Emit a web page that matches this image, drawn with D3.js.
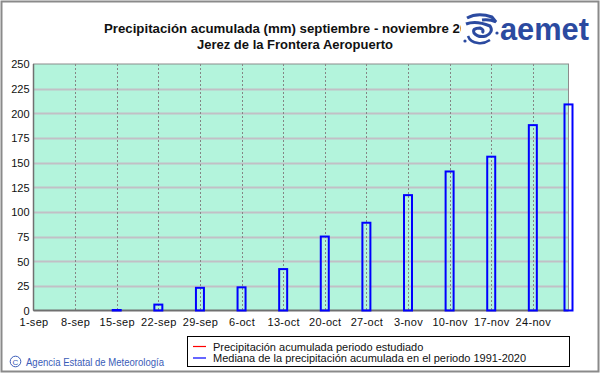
<!DOCTYPE html>
<html>
<head>
<meta charset="utf-8">
<script src="https://cdn.jsdelivr.net/npm/d3@7"></script>
<style>
  html, body { margin: 0; padding: 0; background: #fff; }
  svg { display: block; }
  text { font-family: "Liberation Sans", Arial, sans-serif; }
</style>
</head>
<body>
<svg id="chart" width="601" height="374"></svg>
<script>
// ---------------- DATA ----------------
const titleLines = [
  "Precipitación acumulada (mm) septiembre - noviembre 2023",
  "Jerez de la Frontera Aeropuerto"
];
const dateLabels = ["1-sep","8-sep","15-sep","22-sep","29-sep","6-oct","13-oct","20-oct","27-oct","3-nov","10-nov","17-nov","24-nov"];
const tickDates = ["2023-09-01","2023-09-08","2023-09-15","2023-09-22","2023-09-29","2023-10-06","2023-10-13","2023-10-20","2023-10-27","2023-11-03","2023-11-10","2023-11-17","2023-11-24"];
const medianDates = ["2023-09-01","2023-09-08","2023-09-15","2023-09-22","2023-09-29","2023-10-06","2023-10-13","2023-10-20","2023-10-27","2023-11-03","2023-11-10","2023-11-17","2023-11-24","2023-11-30"];
const medianValues = [0, 0, 0.5, 6, 23, 23.5, 42, 75, 89, 117, 141, 156, 188, 209];
const observedDates = [];   // periodo estudiado: no data drawn in reference
const observedValues = [];
const yTicks = [0, 25, 50, 75, 100, 125, 150, 175, 200, 225, 250];
const legendLabels = [
  "Precipitación acumulada periodo estudiado",
  "Mediana de la precipitación acumulada en el periodo 1991-2020"
];
const legendColors = ["#ff0000", "#0000ff"];
const creditText = "Agencia Estatal de Meteorología";

// ---------------- LAYOUT ----------------
const svg = d3.select("#chart");
const parse = d3.utcParse("%Y-%m-%d");
const X0 = 33.5, X1 = 568.5, Y0 = 310.5, Y1 = 64;

const x = d3.scaleUtc()
  .domain([parse("2023-09-01"), parse("2023-11-30")])
  .range([X0, X1]);
const y = d3.scaleLinear().domain([0, 250]).range([Y0, Y1]);

// outer frame
svg.append("rect").attr("x", 1.5).attr("y", 1.5).attr("width", 597).attr("height", 370)
  .attr("fill", "#fff").attr("stroke", "#8a8a8a").attr("stroke-width", 2);

// plot background
svg.append("rect").attr("x", X0).attr("y", Y1).attr("width", X1 - X0).attr("height", Y0 - Y1)
  .attr("fill", "#b3f4dc");

// horizontal grid
svg.append("g").selectAll("line").data(yTicks.filter(d => d > 0 && d < 250)).join("line")
  .attr("x1", X0).attr("x2", X1)
  .attr("y1", d => Math.round(y(d)) + 0.5).attr("y2", d => Math.round(y(d)) + 0.5)
  .attr("stroke", "#c2c0c6").attr("stroke-width", 2);

// vertical dashed grid
svg.append("g").selectAll("line").data(tickDates.slice(1)).join("line")
  .attr("x1", d => Math.round(x(parse(d))) + 0.5).attr("x2", d => Math.round(x(parse(d))) + 0.5)
  .attr("y1", Y1).attr("y2", Y0)
  .attr("stroke", "#858585").attr("stroke-width", 1).attr("stroke-dasharray", "2,2");

// plot border
svg.append("rect").attr("x", X0).attr("y", Y1).attr("width", X1 - X0).attr("height", Y0 - Y1)
  .attr("fill", "none").attr("stroke", "#8c8c8c").attr("stroke-width", 1);
svg.append("line").attr("x1", X0).attr("x2", X0).attr("y1", Y1).attr("y2", Y0)
  .attr("stroke", "#707070").attr("stroke-width", 1.5);
svg.append("line").attr("x1", X0).attr("x2", X1).attr("y1", Y0).attr("y2", Y0)
  .attr("stroke", "#707070").attr("stroke-width", 2);

// median bars
const bw = 8;
svg.append("g").selectAll("rect").data(medianValues.map((v, i) => ({d: parse(medianDates[i]), v})).filter(o => o.v > 0))
  .join("rect")
  .attr("x", o => x(o.d) - bw / 2)
  .attr("y", o => y(o.v))
  .attr("width", bw)
  .attr("height", o => Math.max(0.5, Y0 - y(o.v)))
  .attr("fill", "none")
  .attr("stroke", "#0000ff")
  .attr("stroke-width", 2);

// observed line (empty in reference)
svg.append("path")
  .datum(observedValues.map((v, i) => ({d: parse(observedDates[i]), v})))
  .attr("fill", "none").attr("stroke", "#ff0000").attr("stroke-width", 1.5)
  .attr("d", d3.line().x(o => x(o.d)).y(o => y(o.v)));

// y axis labels
const yAxis = d3.axisLeft(y).tickValues(yTicks).tickSize(0).tickPadding(0);
const gy = svg.append("g").attr("transform", `translate(${X0 - 4},0)`).call(yAxis);
gy.select(".domain").remove();
gy.selectAll("text").attr("font-size", 11).attr("fill", "#101010")
  .attr("font-family", "Liberation Sans, Arial, sans-serif").attr("dy", "0.35em");

// x axis labels
const xAxis = d3.axisBottom(x).tickValues(tickDates.map(parse))
  .tickFormat((d, i) => dateLabels[i]).tickSize(0).tickPadding(0);
const gx = svg.append("g").attr("transform", `translate(0,${Y0 + 7})`).call(xAxis);
gx.select(".domain").remove();
gx.selectAll("text").attr("font-size", 11).attr("fill", "#101010")
  .attr("font-family", "Liberation Sans, Arial, sans-serif").attr("dy", "0.75em")
  .attr("letter-spacing", "0.3px");

// title
svg.append("text").attr("x", 293).attr("y", 33).attr("text-anchor", "middle")
  .attr("font-size", 12.5).attr("font-weight", "bold").attr("fill", "#111")
  .attr("textLength", 378).attr("lengthAdjust", "spacingAndGlyphs")
  .text(titleLines[0]);
svg.append("text").attr("x", 295).attr("y", 49).attr("text-anchor", "middle")
  .attr("font-size", 12.5).attr("font-weight", "bold").attr("fill", "#111")
  .attr("textLength", 196).attr("lengthAdjust", "spacingAndGlyphs")
  .text(titleLines[1]);

// aemet logo
const logo = svg.append("g").attr("fill", "none").attr("stroke", "#2b4aa0");
logo.append("rect").attr("x", 461).attr("y", 12).attr("width", 38).attr("height", 34).attr("fill", "#fff").attr("stroke", "none");
logo.append("path").attr("d", "M467,18 Q478,12 492,17 L496,22 Q490,19 482,20").attr("stroke-width", 3);
logo.append("path").attr("d", "M466,24 Q476,20 490,26 Q494,32 486,36 Q478,38 474,33 Q472,28 480,28 Q485,30 482,33").attr("stroke-width", 3);
logo.append("path").attr("d", "M468,36 Q470,42 478,43 Q484,44 490,40").attr("stroke-width", 2.5);
logo.append("circle").attr("cx", 465).attr("cy", 41).attr("r", 1.6).attr("fill", "#2b4aa0").attr("stroke", "none");
logo.append("circle").attr("cx", 497).attr("cy", 33).attr("r", 1.6).attr("fill", "#2b4aa0").attr("stroke", "none");
svg.append("text").attr("x", 500).attr("y", 40).attr("font-size", 31).attr("font-weight", "bold")
  .attr("fill", "#2b4aa0").attr("textLength", 89).attr("lengthAdjust", "spacingAndGlyphs")
  .attr("font-family", "Liberation Sans, Arial, sans-serif").text("aemet");

// legend
const lg = svg.append("g");
lg.append("rect").attr("x", 187.5).attr("y", 336.5).attr("width", 382).attr("height", 30)
  .attr("fill", "#fff").attr("stroke", "#000").attr("stroke-width", 1);
legendLabels.forEach((t, i) => {
  const yy = 346.5 + i * 11.5;
  lg.append("line").attr("x1", 193).attr("x2", 206).attr("y1", yy).attr("y2", yy)
    .attr("stroke", legendColors[i]).attr("stroke-width", 1.2);
  lg.append("text").attr("x", 213).attr("y", yy + 4).attr("font-size", 11).attr("fill", "#111")
    .text(t);
});

// credit
svg.append("circle").attr("cx", 15.5).attr("cy", 361.5).attr("r", 5.3)
  .attr("fill", "none").attr("stroke", "#3a5cb8").attr("stroke-width", 1);
svg.append("text").attr("x", 15.5).attr("y", 364.8).attr("text-anchor", "middle")
  .attr("font-size", 8).attr("fill", "#3a5cb8").text("C");
svg.append("text").attr("x", 26).attr("y", 365.5).attr("font-size", 10.5).attr("fill", "#3a5cb8")
  .attr("textLength", 138).attr("lengthAdjust", "spacingAndGlyphs")
  .text(creditText);
</script>
</body>
</html>
